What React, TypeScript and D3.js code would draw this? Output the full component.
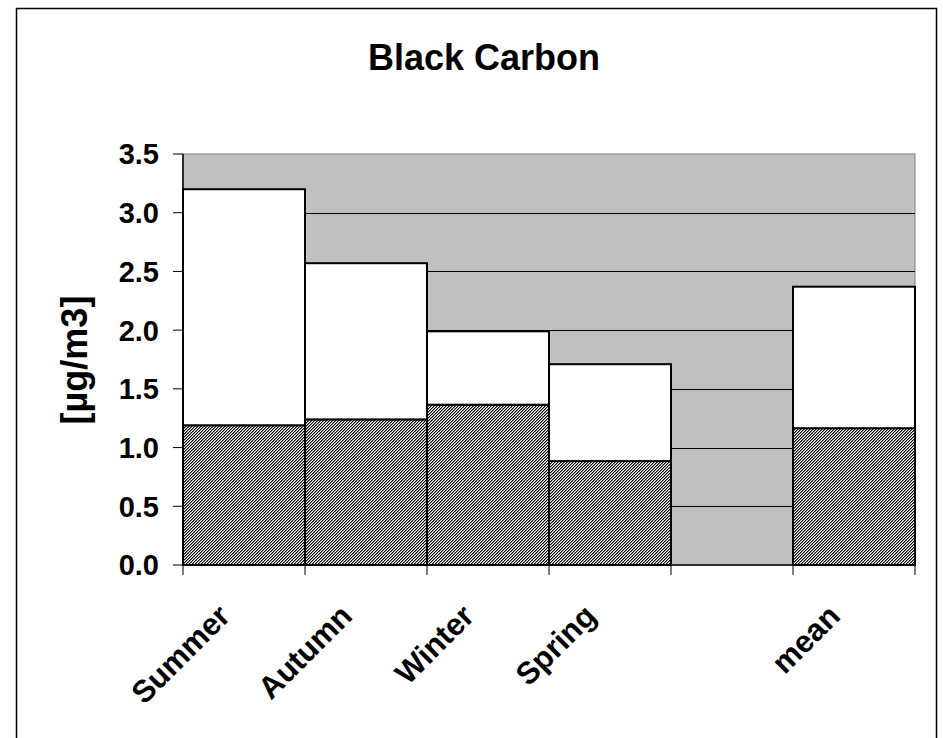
import React from "react";
import * as d3 from "d3";

const categories = ["Summer", "Autumn", "Winter", "Spring", "", "mean"];
const lowerValues = [1.19, 1.24, 1.365, 0.885, 0, 1.165];
const upperValues = [2.01, 1.33, 0.625, 0.825, 0, 1.205];
const yTicks = [0, 0.5, 1.0, 1.5, 2.0, 2.5, 3.0, 3.5];
const title = "Black Carbon";
const yTitle = "[µg/m3]";

const W = 943;
const H = 738;
const FONT = "'Liberation Sans', Arial, Helvetica, sans-serif";

export default function App() {
  const x = d3.scaleBand<string>().domain(categories).range([183, 915]).padding(0);
  const y = d3.scaleLinear().domain([0, 3.5]).range([565, 154]);

  const rows = categories.map((c, i) => ({ cat: c, lower: lowerValues[i], upper: upperValues[i] }));
  const stack = d3.stack<any>().keys(["lower", "upper"]);
  const series = stack(rows);

  const [x0, x1] = x.range();
  const [yb, yt] = [y(0), y(3.5)];
  const bounds = x.domain().map((d) => x(d) as number).concat([x1]);

  // hatch pattern pixels (fine upward diagonal)
  const P = 3;
  const hatchPix: [number, number, string][] = [];
  for (let r = 0; r < P; r++) {
    hatchPix.push([(P - 1 - r + P) % P, r, "#000"]);
    hatchPix.push([(P - r + P) % P, r, "#888"]);
  }

  return (
    <svg
      width={W}
      height={H}
      style={{ position: "absolute", left: 0, top: 0, background: "#fff" }}
      fontFamily={FONT}
    >
      <defs>
        <pattern id="hatch" patternUnits="userSpaceOnUse" width={P} height={P}>
          <rect width={P} height={P} fill="#fff" />
          {hatchPix.map(([px, py, c], i) => (
            <rect key={i} x={px} y={py} width={1} height={1} fill={c} shapeRendering="crispEdges" />
          ))}
        </pattern>
      </defs>

      {/* outer frame */}
      <rect x={16.5} y={8.5} width={920} height={740} fill="#fff" stroke="#000" strokeWidth={1.5} />

      {/* title */}
      <text x={484} y={70} textAnchor="middle" fontSize={36} fontWeight="bold">
        {title}
      </text>

      {/* plot area */}
      <rect x={x0} y={yt} width={x1 - x0} height={yb - yt} fill="#C0C0C0" stroke="#808080" strokeWidth={1} />

      {/* gridlines */}
      {yTicks.filter((t) => t > 0 && t < 3.5).map((t) => (
        <line key={t} x1={x0} x2={x1} y1={Math.round(y(t)) + 0.5} y2={Math.round(y(t)) + 0.5} stroke="#000" strokeWidth={1} />
      ))}

      {/* bars */}
      {series.map((s, si) =>
        s.map((d, i) => {
          if (d[1] - d[0] <= 0) return null;
          const bx = x(categories[i]) as number;
          return (
            <rect
              key={`${si}-${i}`}
              x={bx}
              y={y(d[1])}
              width={x.bandwidth()}
              height={y(d[0]) - y(d[1])}
              fill={si === 0 ? "url(#hatch)" : "#fff"}
              stroke="#000"
              strokeWidth={2}
            />
          );
        })
      )}

      {/* y axis */}
      <line x1={x0} x2={x0} y1={yt} y2={yb} stroke="#000" strokeWidth={1.5} />
      {yTicks.map((t) => (
        <g key={t}>
          <line x1={x0 - 10} x2={x0} y1={y(t)} y2={y(t)} stroke="#000" strokeWidth={1} />
          <text x={159} y={y(t)} dy="0.36em" textAnchor="end" fontSize={29} fontWeight="bold">
            {t.toFixed(1)}
          </text>
        </g>
      ))}

      {/* x axis */}
      <line x1={x0} x2={x1} y1={yb} y2={yb} stroke="#000" strokeWidth={1.5} />
      {bounds.map((b, i) => (
        <line key={i} x1={b} x2={b} y1={yb} y2={yb + 10} stroke="#000" strokeWidth={1} />
      ))}
      {categories.map((c) => {
        if (!c) return null;
        const cx = (x(c) as number) + x.bandwidth() / 2;
        return (
          <text
            key={c}
            transform={`translate(${cx - 20},${610}) rotate(-45)`}
            dy="0.36em"
            textAnchor="end"
            fontSize={31}
            fontWeight="bold"
          >
            {c}
          </text>
        );
      })}

      {/* y title */}
      <text transform="translate(75,360) rotate(-90)" dy="0.33em" textAnchor="middle" fontSize={36} fontWeight="bold">
        {yTitle}
      </text>
    </svg>
  );
}
